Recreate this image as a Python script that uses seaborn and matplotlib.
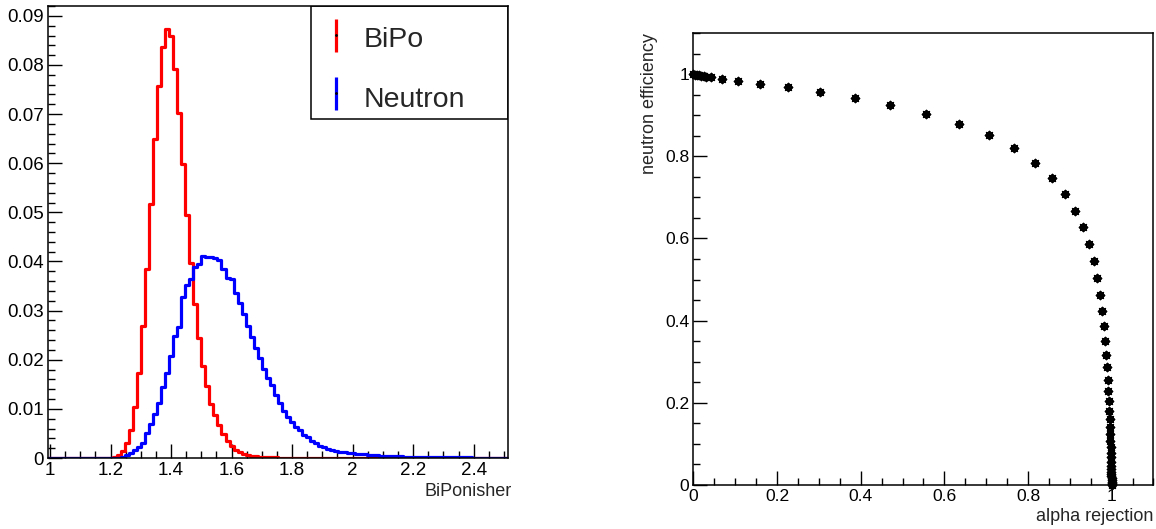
import numpy as np
import pandas as pd
import matplotlib
matplotlib.use("Agg")
import matplotlib.pyplot as plt
from matplotlib.patches import Rectangle
from matplotlib.ticker import MultipleLocator, FuncFormatter
import seaborn as sns

# histogram binning (bin width 1/75, first edge half a bin below 1)
bin_lo = 1 - 1 / 150
bin_w = 1 / 75

# normalised BiPonisher distributions, one value per bin
bipo = [0, 0, 0, 0, 0, 0, 0, 0, 0, 0,
        0, 0, 0, 0, 0, 0.0001, 0.0003, 0.0006, 0.0015, 0.0030,
        0.0057, 0.0104, 0.0173, 0.0269, 0.0384, 0.0518, 0.0650, 0.0758, 0.0837, 0.0873,
        0.0858, 0.0792, 0.0702, 0.0598, 0.0494, 0.0396, 0.0313, 0.0245, 0.0187, 0.0146,
        0.0110, 0.0087, 0.0067, 0.0049, 0.0035, 0.0024, 0.0017, 0.0012, 0.0008, 0.0006,
        0.0005, 0.0004, 0.0003, 0.0003, 0.0002, 0.0002, 0.0002, 0.0001, 0.0001, 0.0001,
        0.0001, 0.0001, 0.0001, 0.0001, 0.0001, 0.0001, 0, 0, 0, 0,
        0, 0, 0, 0, 0, 0, 0, 0, 0, 0,
        0, 0, 0, 0, 0, 0, 0, 0, 0, 0,
        0, 0, 0, 0, 0, 0, 0, 0, 0, 0,
        0, 0, 0, 0, 0, 0, 0, 0, 0, 0,
        0, 0, 0, 0]

neutron = [0, 0, 0, 0, 0, 0, 0, 0, 0, 0,
           0, 0, 0, 0, 0, 0, 0.0001, 0.0001, 0.0003, 0.0006,
           0.0010, 0.0016, 0.0022, 0.0031, 0.0050, 0.0070, 0.0089, 0.0112, 0.0145, 0.0173,
           0.0207, 0.0248, 0.0267, 0.0328, 0.0352, 0.0364, 0.0389, 0.0395, 0.0412, 0.0410,
           0.0409, 0.0407, 0.0403, 0.0385, 0.0366, 0.0365, 0.0335, 0.0316, 0.0294, 0.0268,
           0.0247, 0.0223, 0.0203, 0.0182, 0.0162, 0.0148, 0.0128, 0.0111, 0.0096, 0.0084,
           0.0074, 0.0064, 0.0056, 0.0047, 0.0043, 0.0035, 0.0030, 0.0025, 0.0022, 0.0019,
           0.0016, 0.0015, 0.0013, 0.0012, 0.0011, 0.0010, 0.0009, 0.0008, 0.0008, 0.0007,
           0.0006, 0.0006, 0.0005, 0.0005, 0.0005, 0.0004, 0.0004, 0.0004, 0.0003, 0.0003,
           0.0003, 0.0003, 0.0003, 0.0002, 0.0002, 0.0002, 0.0002, 0.0002, 0.0002, 0.0002,
           0.0002, 0.0002, 0.0002, 0.0002, 0.0002, 0.0001, 0.0001, 0.0001, 0.0001, 0.0001,
           0.0001, 0.0001, 0.0001, 0.0001]

# efficiency curve
alpha_rej = [0.000, 0.004, 0.008, 0.013, 0.018, 0.024, 0.031, 0.042, 0.068, 0.107,
             0.158, 0.225, 0.303, 0.386, 0.471, 0.557, 0.636, 0.707, 0.767, 0.817,
             0.857, 0.888, 0.912, 0.931, 0.946, 0.957, 0.966, 0.972, 0.978, 0.982,
             0.984, 0.987, 0.989, 0.991, 0.992, 0.993, 0.994, 0.995, 0.996, 0.9965,
             0.997, 0.9975, 0.998, 0.9984, 0.9987, 0.999, 0.9992, 0.9994, 0.9995, 0.9996,
             0.9997, 0.9998, 0.9999, 1.0, 1.0, 1.0]
neutron_eff = [1.000, 0.999, 0.998, 0.997, 0.996, 0.995, 0.994, 0.992, 0.989, 0.984,
               0.977, 0.968, 0.957, 0.942, 0.925, 0.904, 0.879, 0.852, 0.819, 0.784,
               0.748, 0.708, 0.668, 0.627, 0.586, 0.545, 0.503, 0.463, 0.424, 0.387,
               0.351, 0.317, 0.286, 0.256, 0.229, 0.204, 0.181, 0.161, 0.141, 0.123,
               0.107, 0.092, 0.079, 0.067, 0.056, 0.047, 0.039, 0.032, 0.026, 0.021,
               0.016, 0.012, 0.008, 0.005, 0.002, 0.000]

labels = ["BiPo", "Neutron"]
colors = ["red", "blue"]

sns.set_style("white")
plt.rcParams["font.family"] = ["Liberation Sans", "DejaVu Sans"]

n = len(bipo)
centers = bin_lo + (np.arange(n) + 0.5) * bin_w
edges = [bin_lo + i * bin_w for i in range(n + 1)]
hist_df = pd.DataFrame({"x": centers, "BiPo": bipo, "Neutron": neutron})
eff_df = pd.DataFrame({"rej": alpha_rej, "eff": neutron_eff})

fmt = FuncFormatter(lambda v, p: f"{v:g}")

fig = plt.figure(figsize=(11.56, 5.29), dpi=100)
ax1 = fig.add_axes([0.0415, 0.1342, 0.3979, 0.8544])
ax2 = fig.add_axes([0.5999, 0.0832, 0.3979, 0.8544])

# left: histograms
for lab, col in zip(labels, colors):
    sns.histplot(data=hist_df, x="x", weights=lab, bins=edges,
                 element="step", fill=False, color=col, linewidth=2.3, ax=ax1)

ax1.set_xlim(edges[0], edges[-1])
ax1.set_ylim(0, 0.092)
ax1.xaxis.set_major_locator(MultipleLocator(0.2))
ax1.xaxis.set_minor_locator(MultipleLocator(0.05))
ax1.yaxis.set_major_locator(MultipleLocator(0.01))
ax1.yaxis.set_minor_locator(MultipleLocator(0.002))
ax1.xaxis.set_major_formatter(fmt)
ax1.yaxis.set_major_formatter(fmt)
ax1.tick_params(which="both", direction="in", bottom=True, left=True,
                top=False, right=False, labelsize=13.5, width=1.0, colors="black")
ax1.tick_params(which="major", length=10, pad=3)
ax1.tick_params(which="minor", length=5)
ax1.set_ylabel("")
ax1.set_xlabel("BiPonisher", fontsize=13)
ax1.xaxis.label.set_horizontalalignment("right")
ax1.xaxis.label.set_verticalalignment("center")
ax1.xaxis.set_label_coords(1.008, -0.075)

# legend drawn ROOT style
ax1.add_patch(Rectangle((0.572, 0.749), 0.428, 0.251, transform=ax1.transAxes,
                        fill=False, edgecolor="black", lw=1.1, zorder=5))
for i, (lab, col) in enumerate(zip(labels, colors)):
    yc = 0.935 - i * 0.128
    ax1.plot([0.626, 0.626], [yc - 0.037, yc + 0.037], transform=ax1.transAxes,
             color=col, lw=2.3, solid_capstyle="butt")
    ax1.plot([0.626], [yc], transform=ax1.transAxes, marker=".", ms=2, color="black")
    ax1.text(0.686, yc - 0.01 - i * 0.004, lab, transform=ax1.transAxes,
             fontsize=20.5, va="center", ha="left")

# right: efficiency vs rejection
sns.scatterplot(data=eff_df, x="rej", y="eff", marker=(8, 2, 0), s=30,
                color="black", edgecolor="black", linewidth=1.4, clip_on=False,
                zorder=4, ax=ax2)
ax2.set_xlim(0, 1.1)
ax2.set_ylim(0, 1.1)
for a in (ax2.xaxis, ax2.yaxis):
    a.set_major_locator(MultipleLocator(0.2))
    a.set_minor_locator(MultipleLocator(0.05))
    a.set_major_formatter(fmt)
ax2.tick_params(which="both", direction="in", bottom=True, left=True,
                top=False, right=False, labelsize=12.6, width=1.0, colors="black")
ax2.tick_params(which="major", length=10, pad=3)
ax2.tick_params(which="minor", length=5)
ax2.set_xlabel("alpha rejection", fontsize=13)
ax2.xaxis.label.set_horizontalalignment("right")
ax2.xaxis.label.set_verticalalignment("center")
ax2.xaxis.set_label_coords(1.0, -0.069)
ax2.set_ylabel("neutron efficiency", fontsize=13, loc="top")
ax2.yaxis.set_label_coords(-0.077, 1.0)

for ax in (ax1, ax2):
    for sp in ax.spines.values():
        sp.set_color("black")
        sp.set_linewidth(1.1)

fig.savefig("out.png", dpi=100)
